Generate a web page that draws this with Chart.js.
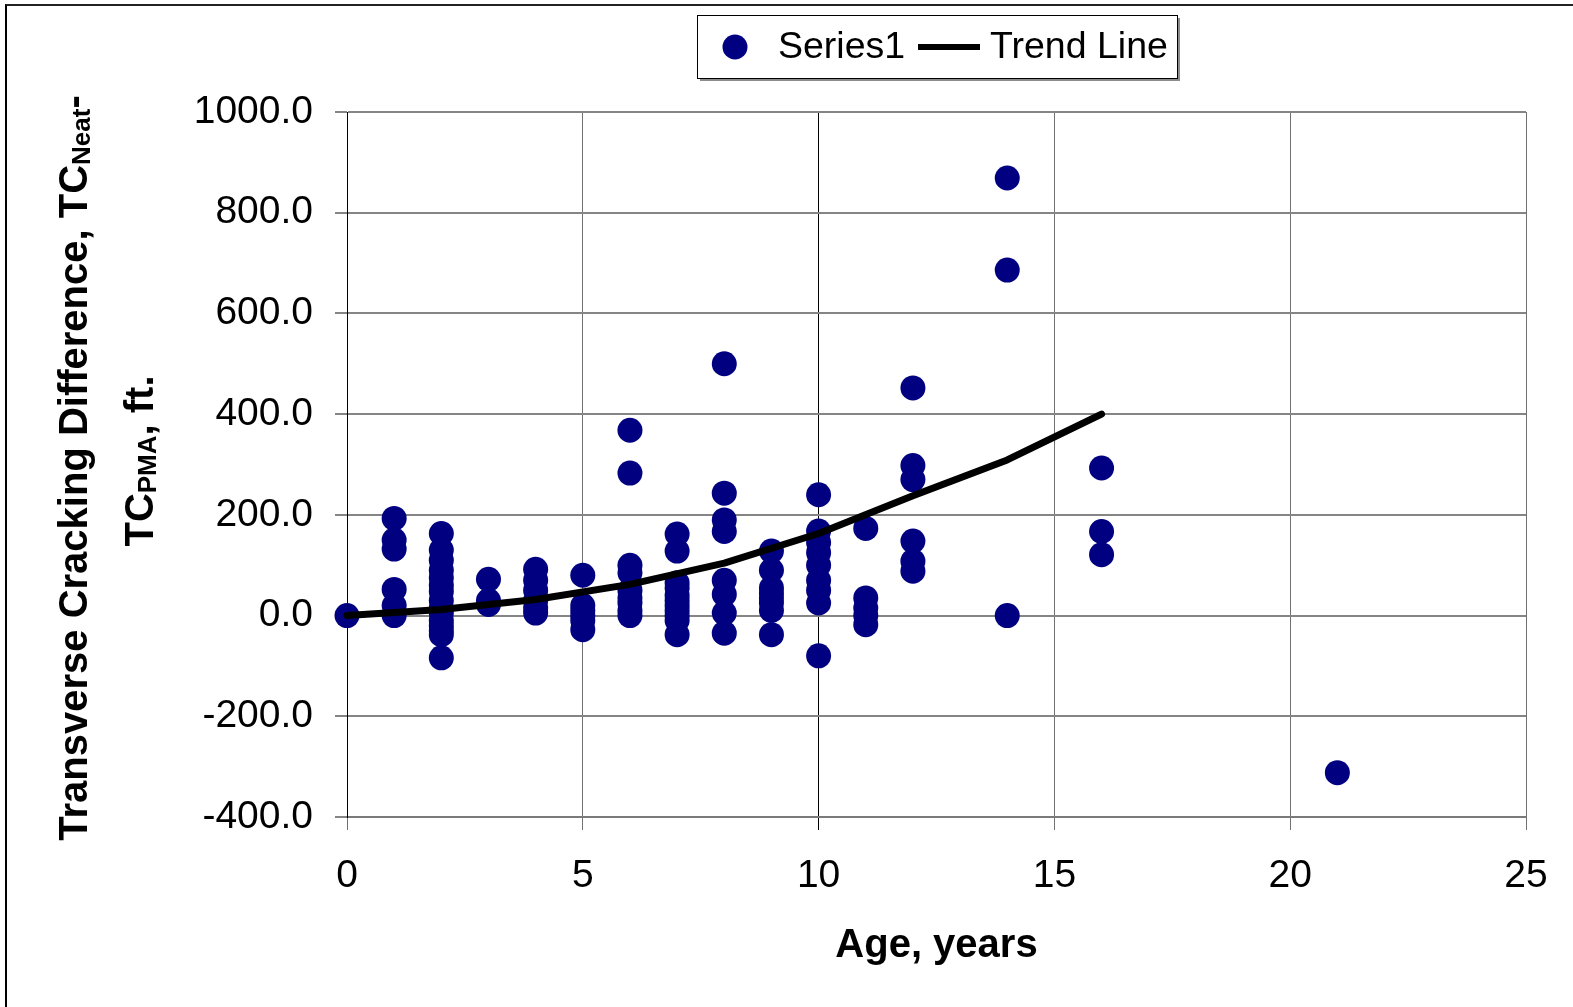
<!DOCTYPE html>
<html>
<head>
  <title>Transverse Cracking Difference</title>
  <script src="https://cdn.jsdelivr.net/npm/chart.js"></script>
  <style>
    body {
      margin: 0;
      padding: 0;
      background: #ffffff;
      font-family: 'Liberation Sans', Arial, sans-serif;
    }

    #chart-container {
      position: relative;
      width: 1573px;
      height: 1007px;
    }

    /* outer frame, only left and top edges show in the original */
    .frame {
      position: absolute;
      left: 5px;
      top: 4px;
      right: -10px;
      bottom: -10px;
      border-left: 2px solid #000;
      border-top: 2px solid #222;
      pointer-events: none;
    }
  </style>
</head>
<body>

  <div id="chart-container">
    <canvas id="myChart"></canvas>
    <div class="frame"></div>
  </div>

  <script>
    // measured points (age in years, difference in ft.)
    const seriesAge = [
      0,
      1, 1, 1, 1, 1, 1,
      2, 2, 2, 2, 2, 2, 2, 2, 2, 2, 2, 2, 2, 2, 2,
      3, 3, 3,
      4, 4, 4, 4, 4, 4,
      5, 5, 5, 5, 5, 5,
      6, 6, 6, 6, 6, 6, 6, 6, 6,
      7, 7, 7, 7, 7, 7, 7, 7, 7, 7, 7,
      8, 8, 8, 8, 8, 8, 8, 8,
      9, 9, 9, 9, 9, 9, 9, 9,
      10, 10, 10, 10, 10, 10, 10, 10, 10,
      11, 11, 11, 11, 11,
      12, 12, 12, 12, 12, 12,
      14, 14, 14,
      16, 16, 16,
      21
    ];
    const seriesDiff = [
      0,
      193, 150, 132, 52, 20, 0,
      163, 130, 110, 90, 75, 60, 48, 30, 15, 5, -10, -20, -30, -38, -84,
      72, 30, 22,
      92, 70, 50, 30, 15, 5,
      80, 20, 10, 0, -10, -28,
      368, 283, 100, 85, 50, 35, 25, 10, 0,
      162, 128, 65, 55, 40, 30, 20, 10, 0, -10, -38,
      500, 243, 190, 167, 70, 42, 5, -35,
      128, 90, 55, 45, 35, 25, 10, -38,
      240, 168, 145, 125, 100, 70, 50, 25, -80,
      173, 35, 15, 0, -18,
      452, 298, 270, 148, 108, 88,
      869, 686, 0,
      293, 167, 121,
      -312
    ];

    // trend line nodes
    const trendAge = [0, 2, 4, 6, 8, 10, 12, 14, 16];
    const trendDiff = [0, 12, 32, 62, 104, 163, 238, 309, 400];

    const FONT = "'Liberation Sans', Arial, sans-serif";

    // legend box with shadow, drawn like the spreadsheet legend
    const legendBox = {
      id: 'legendBox',
      afterDraw(chart) {
        const c = chart.ctx;
        const x = 697, y = 15, w = 480, h = 63;
        c.save();
        c.fillStyle = '#8c8c8c';
        c.fillRect(x + 3, y + 3, w, h);
        c.fillStyle = '#ffffff';
        c.fillRect(x, y, w, h);
        c.strokeStyle = '#000';
        c.lineWidth = 1;
        c.strokeRect(x + 0.5, y + 0.5, w, h);

        const cy = y + 32;
        c.fillStyle = '#000080';
        c.beginPath();
        c.arc(735, cy, 12.5, 0, Math.PI * 2);
        c.fill();

        c.fillStyle = '#000';
        c.font = '37.5px ' + FONT;
        c.textBaseline = 'middle';
        c.fillText('Series1', 778, cy + 1);

        c.strokeStyle = '#000';
        c.lineWidth = 6;
        c.beginPath();
        c.moveTo(918, cy);
        c.lineTo(980, cy);
        c.stroke();

        c.fillText('Trend Line', 990, cy + 1);
        c.restore();
      }
    };

    // y axis title in two rotated lines with subscripts
    function drawParts(c, parts, baseX, centerY) {
      let total = 0;
      parts.forEach(p => {
        c.font = 'bold ' + p.size + 'px ' + FONT;
        p.w = c.measureText(p.text).width;
        total += p.w;
      });
      c.save();
      c.translate(baseX, centerY);
      c.rotate(-Math.PI / 2);
      c.textBaseline = 'alphabetic';
      c.textAlign = 'left';
      let pos = -total / 2;
      parts.forEach(p => {
        c.font = 'bold ' + p.size + 'px ' + FONT;
        c.fillText(p.text, pos, p.shift || 0);
        pos += p.w;
      });
      c.restore();
    }

    const yTitle = {
      id: 'yTitle',
      afterDraw(chart) {
        const c = chart.ctx;
        c.fillStyle = '#000';
        drawParts(c, [
          { text: 'Transverse Cracking Difference, TC', size: 40 },
          { text: 'Neat', size: 26, shift: 3 },
          { text: '-', size: 40 }
        ], 87, 468);
        drawParts(c, [
          { text: 'TC', size: 40 },
          { text: 'PMA', size: 26, shift: 3 },
          { text: ', ft.', size: 40 }
        ], 153, 461);
      }
    };

    const scatterPoints = seriesAge.map((a, i) => ({ x: a, y: seriesDiff[i] }));
    const trendPoints = trendAge.map((a, i) => ({ x: a, y: trendDiff[i] }));

    const ctx = document.getElementById('myChart').getContext('2d');
    const chart = new Chart(ctx, {
      type: 'scatter',
      data: {
        datasets: [
          {
            label: 'Trend Line',
            type: 'line',
            data: trendPoints,
            borderColor: '#000',
            borderWidth: 7,
            tension: 0,
            borderJoinStyle: 'round',
            borderCapStyle: 'round',
            pointStyle: 'rect',
            pointRadius: 2.5,
            pointBackgroundColor: '#000',
            pointBorderWidth: 0,
            fill: false,
            order: 0,
            clip: false
          },
          {
            label: 'Series1',
            data: scatterPoints,
            backgroundColor: '#000080',
            borderWidth: 0,
            pointRadius: 12.5,
            pointHoverRadius: 12.5,
            order: 1,
            clip: false
          }
        ]
      },
      options: {
        responsive: true,
        maintainAspectRatio: false,
        animation: false,
        events: [],
        layout: {
          padding: { top: 112, right: 47, bottom: 0, left: 0 }
        },
        plugins: {
          legend: { display: false },
          tooltip: { enabled: false }
        },
        scales: {
          x: {
            type: 'linear',
            min: 0,
            max: 25,
            afterFit(scale) { scale.height = 190; },
            ticks: {
              stepSize: 5,
              color: '#000',
              padding: 23,
              font: { family: FONT, size: 39 }
            },
            grid: {
              color: ctx => ctx.tick && ctx.tick.value === 10 ? '#000' : '#707070',
              lineWidth: 1,
              tickLength: 13
            },
            border: { color: '#7a7a7a', width: 2 },
            title: {
              display: true,
              text: 'Age, years',
              color: '#000',
              padding: { top: 0, bottom: 37 },
              font: { family: FONT, size: 40, weight: 'bold' }
            }
          },
          y: {
            min: -400,
            max: 1000,
            afterFit(scale) { scale.width = 347; },
            ticks: {
              stepSize: 200,
              color: '#000',
              padding: 22,
              font: { family: FONT, size: 39 },
              callback: v => v.toFixed(1)
            },
            grid: {
              color: '#858585',
              lineWidth: 2,
              tickLength: 12
            },
            border: { color: '#000', width: 1 }
          }
        }
      },
      plugins: [legendBox, yTitle]
    });
  </script>

</body>
</html>
